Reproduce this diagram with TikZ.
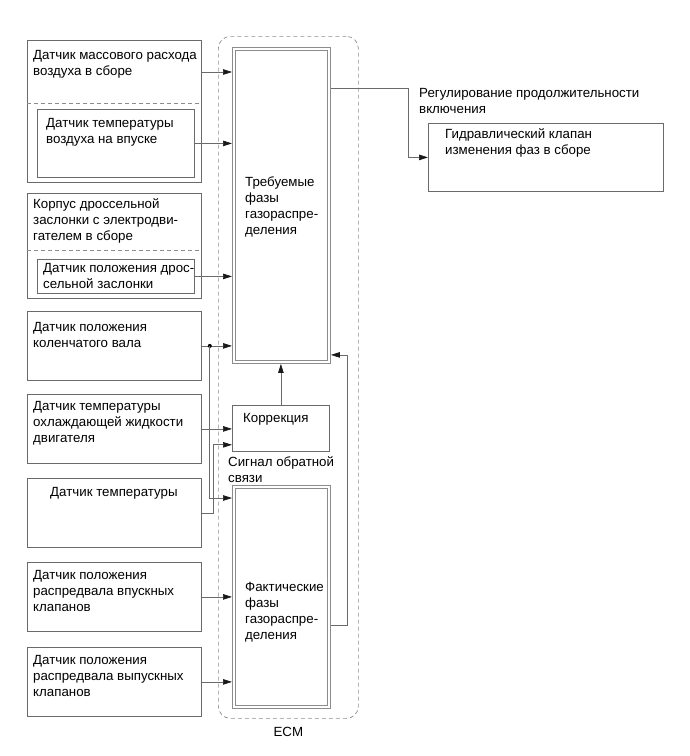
\documentclass[tikz,border=0pt]{standalone}
\usepackage{fontspec}
\setmainfont{Liberation Sans}
\usetikzlibrary{arrows.meta, positioning, calc}
\definecolor{lGray}{HTML}{6A6A6A}
\definecolor{dGray}{HTML}{8C8C8C}

\tikzset{
  box/.style={draw=lGray, line width=0.8pt, anchor=north west, inner sep=0pt},
  ecubox/.style={draw=dGray, line width=0.9pt, anchor=north west, inner sep=0pt},
  txt/.style={anchor=north west, align=left, inner sep=0pt, font=\fontsize{13.3}{16}\selectfont},
  sig/.style={draw=lGray, line width=0.7pt, -{Triangle[length=9pt, width=5.5pt, color=black!90]}},
  divider/.style={draw=dGray, line width=0.7pt, dash pattern=on 4pt off 3pt},
}

\begin{document}
\begin{tikzpicture}[x=1pt, y=-1pt]
    \useasboundingbox (0,0) rectangle (690,756);

    % ECM
    \node[draw=dGray, line width=0.7pt, dash pattern=on 4pt off 3pt, rounded corners=12pt,
      minimum width=140pt, minimum height=682pt, anchor=north west] (ecm) at (218,36) {};
    \node[txt, anchor=north, below=8pt of ecm] (ecmtxt) {ECM};

    \node[ecubox, minimum width=98pt, minimum height=316pt] (req) at (232,47) {};
    \draw[dGray, line width=0.9pt] ($(req.north west)+(3,3)$) rectangle ($(req.south east)+(-3,-3)$);
    \node[txt] (reqtxt) at (245,177) {Требуемые\\фазы\\газораспре-\\деления};
    \node[box, minimum width=97pt, minimum height=46pt] (corr) at (232,405) {};
    \node[txt] (corrtxt) at (243,413) {Коррекция};
    \node[txt] (fbtxt) at (228,456) {Сигнал обратной\\связи};
    \node[ecubox, minimum width=98pt, minimum height=223pt] (act) at (232,485) {};
    \draw[dGray, line width=0.9pt] ($(act.north west)+(3,3)$) rectangle ($(act.south east)+(-3,-3)$);
    \node[txt] (acttxt) at (245,582) {Фактические\\фазы\\газораспре-\\деления};

    % MAF + IAT
    \node[box, minimum width=174pt, minimum height=142pt] (mafunit) at (27,40) {};
    \draw[divider] (mafunit.west |- 0,103) -- (mafunit.east |- 0,103);
    \node[txt] (maftxt) at (33,50) {Датчик массового расхода\\воздуха в сборе};
    \coordinate (mafout) at (201,72);
    \node[box, minimum width=157pt, minimum height=68pt] (iat) at (37,109) {};
    \node[txt] (iattxt) at (46,118) {Датчик температуры\\воздуха на впуске};

    % throttle body + TPS
    \node[box, minimum width=174pt, minimum height=105pt] (thr) at (27,193) {};
    \draw[divider] (thr.west |- 0,250) -- (thr.east |- 0,250);
    \node[txt] (thrtxt) at (33,198) {Корпус дроссельной\\заслонки с электродви-\\гателем в сборе};
    \node[box, minimum width=157pt, minimum height=34pt] (tps) at (37,259) {};
    \node[txt] (tpstxt) at (43,263) {Датчик положения дрос-\\сельной заслонки};

    % other sensors
    \foreach \nm/\y/\ty/\txt in {ckp/311/322/{Датчик положения\\коленчатого вала},
        ect/394/401/{Датчик температуры\\охлаждающей жидкости\\двигателя},
        icmp/562/570/{Датчик положения\\распредвала впускных\\клапанов},
        ecmp/647/655/{Датчик положения\\распредвала выпускных\\клапанов}} {
      \node[box, minimum width=174pt, minimum height=69pt] (\nm) at (27,\y) {};
      \node[txt] (\nm txt) at (33,\ty) {\txt};
    }
    \node[box, minimum width=174pt, minimum height=69pt] (tmp) at (27,478) {};
    \node[txt] (tmptxt) at (50,487) {Датчик температуры};

    % OCV
    \node[box, minimum width=235pt, minimum height=68pt] (ocv) at (428,123) {};
    \node[txt] (ocvtxt) at (445,128) {Гидравлический клапан\\изменения фаз в сборе};
    \node[txt] (dutytxt) at (419,88) {Регулирование продолжительности\\включения};

    % signals
    \draw[sig] (mafout) -- (mafout -| req.west);
    \draw[sig] (iat.east) -- (iat.east -| req.west);
    \draw[sig] (tps.east) -- (tps.east -| req.west);
    \draw[sig] (ckp.east) -- (ckp.east -| req.west);
    \coordinate (split) at ($(ckp.east)+(8,0)$);
    \fill[black] (split) circle (2pt);
    \draw[sig] (split) |- ($(act.north west)+(0,13)$);
    \draw[sig] (ect.east) -- (ect.east -| corr.west);
    \draw[sig] (tmp.east) -- ++(12,0) |- ($(corr.south west)+(0,-7)$);
    \draw[sig] (icmp.east) -- (icmp.east -| act.west);
    \draw[sig] (ecmp.east) -- (ecmp.east -| act.west);
    \draw[sig] (corr.north) -- (corr.north |- req.south);
    \draw[sig] ($(act.east)+(0,28)$) -- ++(16,0) |- ($(req.south east)+(0,-9)$);
    \draw[sig] ($(req.north east)+(0,41)$) -- ++(77,0) |- (ocv.west);
\end{tikzpicture}
\end{document}
